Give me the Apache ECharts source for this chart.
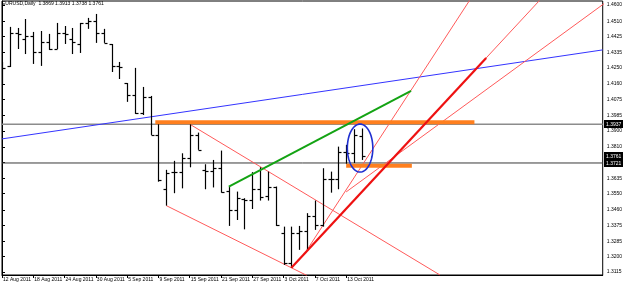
<!DOCTYPE html>
<html><head><meta charset="utf-8">
<script src="https://cdn.jsdelivr.net/npm/echarts@6/dist/echarts.min.js"></script>
<style>html,body{margin:0;padding:0;background:#fff}#c{width:625px;height:286px}</style>
</head><body><div id="c"></div>
<script>
const dates = ['12 Aug 2011','15 Aug 2011','16 Aug 2011','17 Aug 2011','18 Aug 2011','19 Aug 2011','22 Aug 2011','23 Aug 2011','24 Aug 2011','25 Aug 2011','26 Aug 2011','29 Aug 2011','30 Aug 2011','31 Aug 2011','1 Sep 2011','2 Sep 2011','5 Sep 2011','6 Sep 2011','7 Sep 2011','8 Sep 2011','9 Sep 2011','12 Sep 2011','13 Sep 2011','14 Sep 2011','15 Sep 2011','16 Sep 2011','19 Sep 2011','20 Sep 2011','21 Sep 2011','22 Sep 2011','23 Sep 2011','26 Sep 2011','27 Sep 2011','28 Sep 2011','29 Sep 2011','30 Sep 2011','3 Oct 2011','4 Oct 2011','5 Oct 2011','6 Oct 2011','7 Oct 2011','10 Oct 2011','11 Oct 2011','12 Oct 2011','13 Oct 2011','14 Oct 2011','17 Oct 2011'];
const opens  = [1.4200,1.4261,1.4444,1.4411,1.4428,1.4339,1.4394,1.4355,1.4444,1.4411,1.4383,1.4500,1.4511,1.4444,1.4383,1.4261,1.4166,1.4099,1.3999,1.4088,1.3877,1.3577,1.3670,1.3670,1.3748,1.3877,1.3683,1.3677,1.3692,1.3565,1.3460,1.3520,1.3515,1.3575,1.3540,1.3590,1.3334,1.3165,1.3334,1.3340,1.3426,1.3376,1.3630,1.3630,1.3784,1.3775,1.3869];
const highs  = [1.4283,1.4478,1.4472,1.4522,1.4450,1.4455,1.4439,1.4500,1.4483,1.4472,1.4500,1.4528,1.4550,1.4467,1.4383,1.4283,1.4166,1.4250,1.4144,1.4094,1.3944,1.3683,1.3733,1.3775,1.3937,1.3890,1.3714,1.3738,1.3790,1.3590,1.3562,1.3525,1.3670,1.3697,1.3673,1.3590,1.3367,1.3367,1.3371,1.3442,1.3512,1.3692,1.3673,1.3812,1.3822,1.3909,1.3913];
const lows   = [1.4155,1.4255,1.4355,1.4327,1.4272,1.4261,1.4350,1.4355,1.4383,1.4327,1.4333,1.4467,1.4389,1.4389,1.4227,1.4188,1.4061,1.3994,1.3988,1.3877,1.3617,1.3484,1.3553,1.3580,1.3697,1.3794,1.3575,1.3585,1.3556,1.3371,1.3404,1.3352,1.3465,1.3512,1.3512,1.3371,1.3154,1.3138,1.3238,1.3238,1.3349,1.3367,1.3556,1.3575,1.3716,1.3721,1.3738];
const closes = [1.4250,1.4444,1.4440,1.4428,1.4339,1.4394,1.4355,1.4444,1.4440,1.4394,1.4500,1.4511,1.4444,1.4389,1.4261,1.4255,1.4099,1.3999,1.4088,1.3877,1.3627,1.3667,1.3670,1.3748,1.3877,1.3794,1.3677,1.3692,1.3562,1.3460,1.3525,1.3515,1.3575,1.3534,1.3590,1.3375,1.3165,1.3334,1.3340,1.3426,1.3376,1.3630,1.3630,1.3784,1.3775,1.3875,1.3761];
const xTickIdx = [0,4,8,12,16,20,24,28,32,36,40,44];
const yTicks = [1.3115,1.3200,1.3285,1.3375,1.3460,1.3550,1.3635,1.3725,1.3810,1.3900,1.3985,1.4075,1.4160,1.4250,1.4335,1.4425,1.4510,1.4600];
const titleText = 'EURUSD,Daily  1.3869 1.3913 1.3738 1.3761';
const grayLevel = 1.3937;
const bidLevel = 1.3761;
const blackLevel = 1.3721;
const priceTags = [grayLevel, bidLevel, blackLevel];
// drawn objects, as [index, price] pairs
const grayLine = [[0, grayLevel], [76.8, grayLevel]];
const blackLine = [[0, blackLevel], [76.8, blackLevel]];
const blueLine = [[0, 1.3855], [76.8, 1.4350]];
const orangeTop = [[19.6, 1.3947], [60.4, 1.3947]];
const orangeLow = [[44.0, 1.3705], [52.4, 1.3705]];
const greenLine = [[29, 1.3590], [52.3, 1.4122]];
const redChannelUp = [[24, 1.3937], [56, 1.3098]];
const redChannelLow = [[21, 1.3484], [39, 1.3095]];
const redThick = [[37, 1.3138], [61.9, 1.4305]];
const redThickRay = [[37, 1.3138], [70, 1.4685]];
const redSteep = [[39, 1.3238], [60, 1.4640]];
const redFan = [[44, 1.3560], [78, 1.4640]];
const ellipse = [45.78, 1.3804, 1.63, 0.01335];

const FONT = 'Liberation Sans';
const XMAX = 76.8;
const chart = echarts.init(document.getElementById('c'), null, {renderer: 'canvas'});

function seg(data, color, width, z) {
  return {type: 'line', data: data, symbol: 'none', silent: true, animation: false,
    lineStyle: {color: color, width: width}, z: z || 3, clip: true};
}

const barData = dates.map((d, i) => [i, opens[i], highs[i], lows[i], closes[i]]);

chart.setOption({
  animation: false,
  backgroundColor: '#fff',
  title: {text: titleText, left: 2, top: 1, padding: 0,
    textStyle: {fontFamily: FONT, fontSize: 5, fontWeight: 'normal', color: '#000'}},
  grid: {left: 1, right: 20, top: 1, bottom: 11, show: true, borderColor: '#000', borderWidth: 1, backgroundColor: '#fff'},
  xAxis: {type: 'value', min: 0, max: XMAX,
    axisLine: {show: true, lineStyle: {color: '#000', width: 1}},
    axisTick: {show: true, customValues: xTickIdx, length: 3, lineStyle: {color: '#000'}},
    axisLabel: {customValues: xTickIdx, formatter: v => dates[Math.round(v)] || '', align: 'left',
      margin: 2, fontFamily: FONT, fontSize: 5, color: '#000', padding: [0, 0, 0, 1]},
    splitLine: {show: false}},
  yAxis: {type: 'value', position: 'right', min: 1.3098, max: 1.4622, scale: true,
    axisLine: {show: true, lineStyle: {color: '#000', width: 1}},
    axisTick: {show: true, customValues: yTicks, length: 3, lineStyle: {color: '#000'}},
    axisLabel: {customValues: yTicks, formatter: v => v.toFixed(4), margin: 4,
      fontFamily: FONT, fontSize: 5, color: '#000'},
    splitLine: {show: false}},
  series: [
    seg(grayLine, '#8c8c8c', 1.5, 2),
    seg(blackLine, '#3a3a3a', 1, 2),
    {type: 'custom', data: barData, silent: true, z: 4, clip: true,
      renderItem: function (params, api) {
        const i = api.value(0);
        const pH = api.coord([i, api.value(2)]);
        const pL = api.coord([i, api.value(3)]);
        const pO = api.coord([i, api.value(1)]);
        const pC = api.coord([i, api.value(4)]);
        const x = Math.round(pH[0]) + 0.5;
        const st = {stroke: '#000', lineWidth: 1.2};
        return {type: 'group', children: [
          {type: 'line', shape: {x1: x, y1: pH[1], x2: x, y2: pL[1]}, style: st},
          {type: 'line', shape: {x1: x - 3, y1: Math.round(pO[1]) + 0.5, x2: x, y2: Math.round(pO[1]) + 0.5}, style: st},
          {type: 'line', shape: {x1: x, y1: Math.round(pC[1]) + 0.5, x2: x + 3, y2: Math.round(pC[1]) + 0.5}, style: st}
        ]};
      }},
    seg(blueLine, '#3434ff', 1),
    seg(redChannelUp, '#ff5a5a', 1),
    seg(redChannelLow, '#ff5a5a', 1),
    seg(redSteep, '#ff5a5a', 1),
    seg(redFan, '#ff5a5a', 1),
    seg(redThickRay, '#ff5a5a', 1),
    seg(orangeTop, '#ff7f1e', 4, 5),
    seg(orangeLow, '#ff7f1e', 4, 5),
    seg(greenLine, '#13a313', 2, 5),
    seg(redThick, '#ee1111', 2.2, 6),
    {type: 'custom', data: [ellipse], silent: true, z: 7, clip: false,
      renderItem: function (params, api) {
        const c = api.coord([api.value(0), api.value(1)]);
        const s = api.size([api.value(2), api.value(3)]);
        const pts = [];
        for (let k = 0; k < 72; k++) {
          const t = k / 72 * Math.PI * 2;
          pts.push([c[0] + s[0] * Math.cos(t), c[1] + s[1] * Math.sin(t)]);
        }
        return {type: 'polygon', shape: {points: pts}, style: {fill: 'none', stroke: '#1f2fd0', lineWidth: 1.6}};
      }},
    {type: 'custom', data: priceTags.map(v => [XMAX, v]), silent: true, z: 20, clip: false,
      renderItem: function (params, api) {
        const v = api.value(1);
        const p = api.coord([api.value(0), v]);
        const x0 = Math.round(p[0]) + 1;
        const yc = Math.round(p[1]);
        return {type: 'group', children: [
          {type: 'rect', shape: {x: x0, y: yc - 4, width: 19, height: 8}, style: {fill: '#000'}},
          {type: 'text', style: {text: v.toFixed(4), x: x0 + 2, y: yc + 0.5, verticalAlign: 'middle',
            fill: '#fff', font: '5px "Liberation Sans"'}}
        ]};
      }}
  ]
});
</script></body></html>
